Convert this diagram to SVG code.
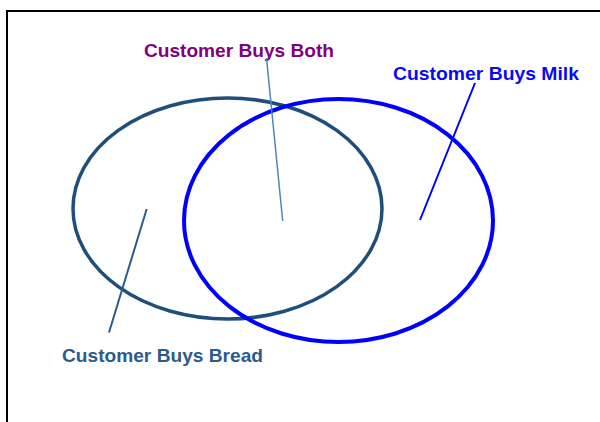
<svg xmlns="http://www.w3.org/2000/svg" width="600" height="422" viewBox="0 0 600 422">
<style>
.lbl{font-family:"Liberation Sans",Arial,sans-serif;font-weight:bold;font-size:19px}
.c{fill:none}
</style>
<rect width="600" height="422" fill="#fff"/>
<g id="frame"><path d="M7 422 V11 H600" fill="none" stroke="#000" stroke-width="2"/></g>
<g id="bread"><ellipse class="c" cx="227.5" cy="208.5" rx="154.5" ry="110.5" stroke="#1F4E7D" stroke-width="3.5"/>
<text class="lbl" x="62" y="361.5" fill="#2B5B8C" textLength="201" lengthAdjust="spacingAndGlyphs">Customer Buys Bread</text></g>
<g id="milk"><ellipse class="c" cx="338.5" cy="220.5" rx="154.5" ry="121.5" stroke="#0000FF" stroke-width="4"/>
<text class="lbl" x="393" y="80" fill="#0A0AF0" textLength="186" lengthAdjust="spacingAndGlyphs">Customer Buys Milk</text></g>
<g id="both"><text class="lbl" x="144" y="56.5" fill="#7F0080" textLength="190" lengthAdjust="spacingAndGlyphs">Customer Buys Both</text></g>
<g id="connectors">
<line x1="266.5" y1="58" x2="282.7" y2="221" stroke="#4F81BD" stroke-width="1.5"/>
<line x1="475" y1="83" x2="420" y2="220" stroke="#0000FF" stroke-width="2"/>
<line x1="146.7" y1="209" x2="109" y2="332.5" stroke="#2B5B8C" stroke-width="2"/>
</g>
</svg>
